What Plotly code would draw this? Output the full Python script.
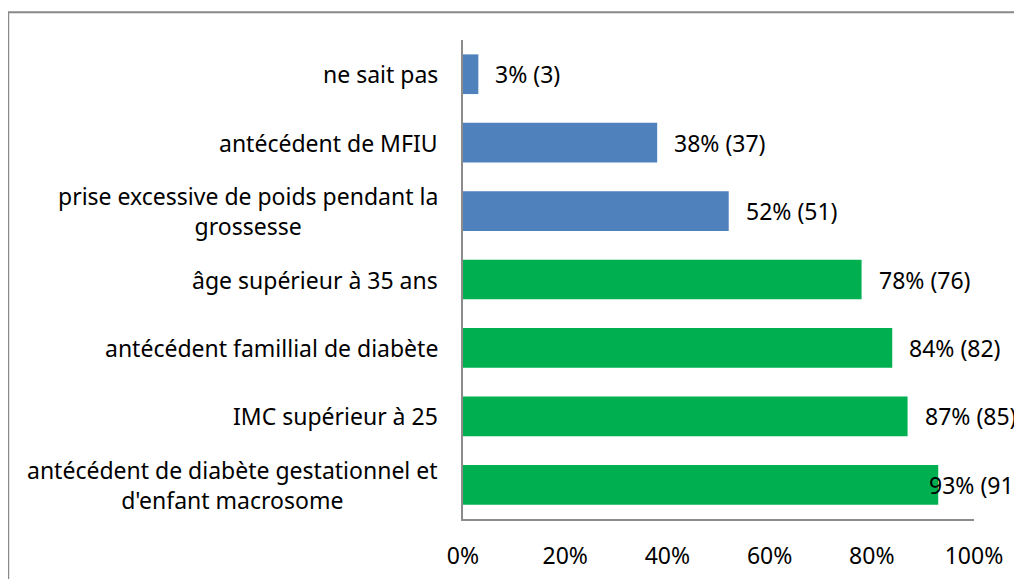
import plotly.graph_objects as go

# categories bottom -> top
categories = [
    "antécédent de diabète gestationnel et<br>d'enfant macrosome",
    "IMC supérieur à 25",
    "antécédent famillial de diabète",
    "âge supérieur à 35 ans",
    "prise excessive de poids pendant la<br>grossesse",
    "antécédent de MFIU",
    "ne sait pas",
]
percents = [93, 87, 84, 78, 52, 38, 3]
counts = [91, 85, 82, 76, 51, 37, 3]
bar_colors = ["#00B050"] * 4 + ["#4F81BD"] * 3

font = "Noto Sans"
fsize = 23

fig = go.Figure()
fig.add_trace(go.Bar(
    y=categories,
    x=percents,
    orientation="h",
    marker=dict(color=bar_colors, line=dict(width=0)),
    hoverinfo="skip",
))

# value labels (the widest one is pulled back to fit, as in the original)
for cat, p, c in zip(categories, percents, counts):
    fig.add_annotation(
        x=p, y=cat, xref="x", yref="y",
        text="%d%% (%d)" % (p, c), showarrow=False,
        xanchor="left", xshift=15 if p < 90 else -11,
        font=dict(family=font, size=fsize, color="#000000"),
    )

# category labels as centered annotations
for cat in categories:
    fig.add_annotation(
        x=0, xref="paper", y=cat, yref="y",
        text=cat, showarrow=False,
        xanchor="right", align="center", xshift=-23,
        font=dict(family=font, size=fsize, color="#000000"),
    )

# outer chart border
fig.add_shape(type="rect", xref="paper", yref="paper",
              x0=-0.89, x1=1.3, y0=-0.3, y1=1.058,
              line=dict(color="#898989", width=2), layer="below")

fig.update_layout(
    width=1022, height=579,
    margin=dict(l=455, r=56, t=32, b=68),
    paper_bgcolor="white", plot_bgcolor="white",
    showlegend=False,
    bargap=0.42,
    font=dict(family=font, size=fsize, color="#000000"),
)
fig.update_xaxes(
    range=[0, 100], tickvals=[0, 20, 40, 60, 80, 100],
    ticktext=["0%", "20%", "40%", "60%", "80%", "100%"],
    showgrid=False, zeroline=False,
    showline=True, linecolor="#8C8C8C", linewidth=2,
    ticks="", ticklabelstandoff=15,
    tickfont=dict(family=font, size=fsize, color="#000000"),
)
fig.update_yaxes(
    showticklabels=False, showgrid=False, zeroline=False,
    showline=True, linecolor="#8C8C8C", linewidth=2, ticks="",
)

fig.write_html("out.html")
